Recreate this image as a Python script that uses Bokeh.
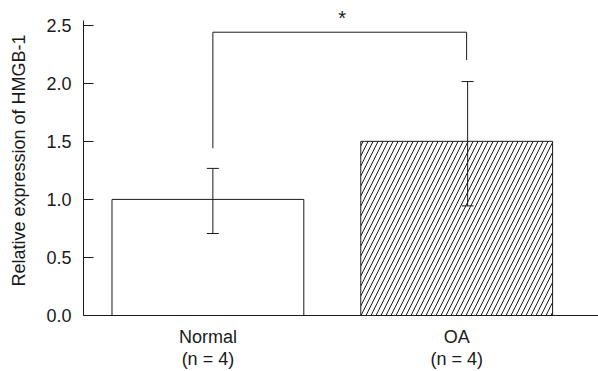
from bokeh.plotting import figure
from bokeh.models import FixedTicker, Range1d, NumeralTickFormatter, Whisker, ColumnDataSource
from bokeh.core.properties import value
from bokeh.embed import file_html
from bokeh.resources import INLINE

groups = ["Normal\n(n = 4)", "OA\n(n = 4)"]
group_x = [1, 2]
means = [1.0, 1.5]
err_upper = [1.267, 2.015]
err_lower = [0.706, 0.944]
err_x = [1.02, 2.044]
hatches = [" ", "/"]
y_ticks = [0.0, 0.5, 1.0, 1.5, 2.0, 2.5]
bracket_x = [1.02, 1.02, 2.04, 2.04]
bracket_y = [1.44, 2.44, 2.44, 2.20]
star_x = [1.54]
star_y = [2.56]
star_text = ["*"]

FONT = "Liberation Sans"
INK = "#1a1a1a"

p = figure(width=598, height=371, output_backend="svg", toolbar_location=None,
           x_range=Range1d(0.5, 2.57), y_range=Range1d(0, 2.67),
           min_border_left=83, min_border_right=0, min_border_top=5, min_border_bottom=52)
p.outline_line_color = None
p.grid.grid_line_color = None
p.background_fill_color = "white"

src = ColumnDataSource(dict(x=group_x, top=means, hatch=hatches))
p.vbar(x="x", top="top", width=0.771, bottom=0, source=src,
       fill_color="white", line_color=INK, line_width=1,
       hatch_pattern="hatch", hatch_color=INK, hatch_scale=10, hatch_weight=1)

esrc = ColumnDataSource(dict(x=err_x, upper=err_upper, lower=err_lower))
w = Whisker(base="x", upper="upper", lower="lower", source=esrc, line_color=INK, line_width=1,
            level="overlay")
w.upper_head.size = 12
w.lower_head.size = 12
w.upper_head.line_color = INK
w.lower_head.line_color = INK
p.add_layout(w)

p.line(bracket_x, bracket_y, line_color=INK, line_width=1)
p.text(star_x, star_y, text=star_text, text_align="center", text_baseline="middle",
       text_font=value(FONT), text_font_size="20px", text_color=INK)

ya = p.yaxis[0]
ya.bounds = (0, 2.54)
ya.ticker = FixedTicker(ticks=y_ticks)
ya.formatter = NumeralTickFormatter(format="0.0")
ya.major_tick_in = 10
ya.major_tick_out = 0
ya.minor_tick_line_color = None
ya.axis_line_color = INK
ya.major_tick_line_color = INK
ya.major_label_text_font = FONT
ya.major_label_text_font_size = "18px"
ya.major_label_text_color = INK
ya.major_label_standoff = 12
ya.axis_label = "Relative expression of HMGB-1"
ya.axis_label_text_font = FONT
ya.axis_label_text_font_size = "18px"
ya.axis_label_text_font_style = "normal"
ya.axis_label_text_color = INK
ya.axis_label_standoff = 14

xa = p.xaxis[0]
xa.ticker = FixedTicker(ticks=group_x)
xa.major_label_overrides = {gx: g for gx, g in zip(group_x, groups)}
xa.major_tick_line_color = None
xa.minor_tick_line_color = None
xa.axis_line_color = INK
xa.major_label_text_font = FONT
xa.major_label_text_font_size = "18px"
xa.major_label_text_line_height = 1.1
xa.major_label_text_color = INK
xa.major_label_standoff = 5

open("out.html", "w").write(file_html(p, INLINE))
